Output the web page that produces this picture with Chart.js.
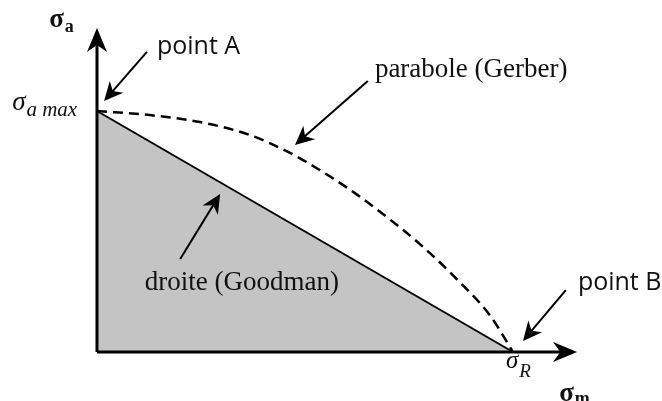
<!DOCTYPE html>
<html>
<head>
<meta charset="utf-8">
<script src="https://cdn.jsdelivr.net/npm/chart.js@4"></script>
<style>
  body { margin: 0; background: #fff; }
  canvas { display: block; }
</style>
</head>
<body>
<canvas id="diagramme" width="662" height="401"></canvas>
<script>
// Données (σm / σR en abscisse, σa / σa max en ordonnée)
const goodmanX = [0, 1];
const goodmanY = [1, 0];
const gerberX = [0, 0.127, 0.248, 0.368, 0.464, 0.543, 0.625, 0.704, 0.784, 0.873, 0.945, 1];
const gerberY = [1, 0.983, 0.954, 0.900, 0.826, 0.747, 0.653, 0.550, 0.436, 0.288, 0.151, 0];
const axeXFin = 1.154;
const axeYFin = 1.344;

const pts = (xs, ys) => xs.map((x, i) => ({ x, y: ys[i] }));

// Annotations (flèches + textes), en coordonnées du diagramme
const fleches = [
  { de: [0.120, 1.245], a: [0.017, 1.041] },  // point A
  { de: [0.651, 1.124], a: [0.476, 0.859] },  // parabole
  { de: [0.200, 0.386], a: [0.296, 0.656] },  // droite
  { de: [1.127, 0.257], a: [1.024, 0.046] }   // point B
];

const SANS = '"Open Sans", sans-serif';
const SERIF = '"Liberation Serif", "Times New Roman", serif';
const textes = [
  { t: 'point A', x: 0.144, y: 1.237, font: '25px ' + SANS },
  { t: 'point B', x: 1.156, y: 0.257, font: '25px ' + SANS },
  { t: 'parabole (Gerber)', x: 0.668, y: 1.141, font: '27px ' + SERIF },
  { t: 'droite (Goodman)', x: 0.115, y: 0.257, font: '27px ' + SERIF },
  { t: 'σ', sub: 'a max', x: -0.204, y: 1.004, font: 'italic 27px ' + SERIF, subFont: 'italic 21px ' + SERIF, dy: 6 },
  { t: 'σ', sub: 'R', x: 0.983, y: -0.066, font: 'italic 25px ' + SERIF, subFont: 'italic 19px ' + SERIF, dy: 9 },
  { t: 'σ', sub: 'a', x: -0.115, y: 1.349, font: 'bold 27px ' + SERIF, subFont: 'bold 18px ' + SERIF, dy: 5 },
  { t: 'σ', sub: 'm', x: 1.111, y: -0.203, font: 'bold 27px ' + SERIF, subFont: 'bold 18px ' + SERIF, dy: 3 }
];

function pointe(ctx, x1, y1, x2, y2, long, larg) {
  const ang = Math.atan2(y2 - y1, x2 - x1);
  ctx.save();
  ctx.translate(x2, y2);
  ctx.rotate(ang);
  ctx.beginPath();
  ctx.moveTo(0, 0);
  ctx.lineTo(-long, -larg);
  ctx.lineTo(-long * 0.7, 0);
  ctx.lineTo(-long, larg);
  ctx.closePath();
  ctx.fill();
  ctx.restore();
}

const annotations = {
  id: 'annotations',
  afterDatasetsDraw(chart) {
    const ctx = chart.ctx;
    const sx = chart.scales.x, sy = chart.scales.y;
    const px = v => sx.getPixelForValue(v);
    const py = v => sy.getPixelForValue(v);
    ctx.save();
    ctx.fillStyle = '#000';
    ctx.strokeStyle = '#000';

    // pointes des axes
    pointe(ctx, px(0), py(0), px(axeXFin), py(0), 24, 10);
    pointe(ctx, px(0), py(0), px(0), py(axeYFin), 24, 10);

    // flèches d'annotation
    ctx.lineWidth = 2;
    fleches.forEach(f => {
      const x1 = px(f.de[0]), y1 = py(f.de[1]);
      const x2 = px(f.a[0]), y2 = py(f.a[1]);
      ctx.beginPath();
      ctx.moveTo(x1, y1);
      ctx.lineTo(x2 - (x2 - x1) * 0.08, y2 - (y2 - y1) * 0.08);
      ctx.stroke();
      pointe(ctx, x1, y1, x2, y2, 19, 9);
    });

    // textes
    ctx.fillStyle = '#111';
    ctx.textBaseline = 'alphabetic';
    ctx.textAlign = 'left';
    textes.forEach(o => {
      const x = px(o.x), y = py(o.y);
      ctx.font = o.font;
      ctx.fillText(o.t, x, y);
      if (o.sub) {
        const w = ctx.measureText(o.t).width;
        ctx.font = o.subFont;
        ctx.fillText(o.sub, x + w + 1, y + o.dy);
      }
    });
    ctx.restore();
  }
};

new Chart(document.getElementById('diagramme'), {
  type: 'line',
  data: {
    datasets: [
      { data: [{ x: 0, y: 0 }, { x: axeXFin - 0.04, y: 0 }], borderColor: '#000', borderWidth: 3, pointRadius: 0, fill: false },
      { data: [{ x: 0, y: 0 }, { x: 0, y: axeYFin - 0.06 }], borderColor: '#000', borderWidth: 3, pointRadius: 0, fill: false },
      { data: pts(gerberX, gerberY), borderColor: '#000', borderWidth: 2.5, borderDash: [10, 6], pointRadius: 0, fill: false, cubicInterpolationMode: 'monotone' },
      { data: pts(goodmanX, goodmanY), borderColor: '#000', borderWidth: 2, pointRadius: 0, fill: 'origin', backgroundColor: '#c4c4c4' }
    ]
  },
  options: {
    responsive: false,
    animation: false,
    devicePixelRatio: 1,
    layout: { padding: 0 },
    plugins: { legend: { display: false }, tooltip: { enabled: false } },
    scales: {
      x: { type: 'linear', display: false, min: -97 / 416, max: (662 - 97) / 416 },
      y: { type: 'linear', display: false, min: -(401 - 352) / 241, max: 352 / 241 }
    }
  },
  plugins: [annotations]
});
</script>
</body>
</html>
